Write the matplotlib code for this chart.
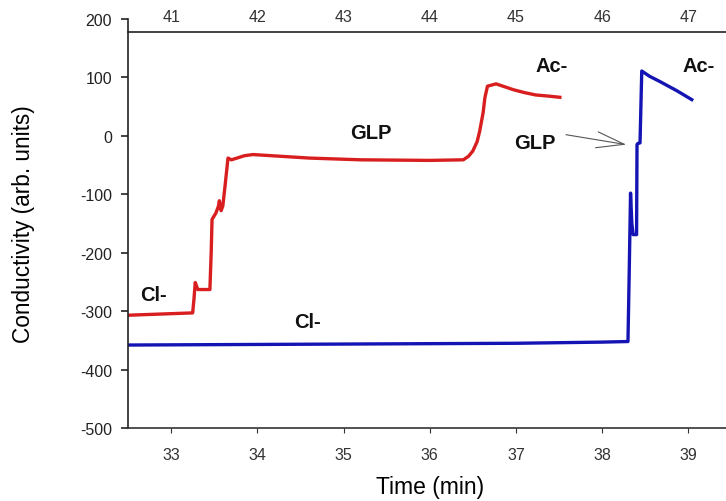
import matplotlib
matplotlib.use("Agg")
import matplotlib.pyplot as plt

plt.rcParams['font.family'] = ['Liberation Sans', 'DejaVu Sans']
plt.rcParams['axes.unicode_minus'] = False

# ---- data ----
red_t = [32.5, 33.25, 33.265, 33.28, 33.31, 33.45, 33.465, 33.475, 33.52, 33.55,
         33.56, 33.58, 33.60, 33.63, 33.66, 33.70, 33.85, 33.95, 34.6, 35.2,
         36.0, 36.39, 36.45, 36.50, 36.55, 36.58, 36.62, 36.64, 36.67, 36.72,
         36.77, 36.85, 36.97, 37.10, 37.23, 37.38, 37.51]
red_v = [-307, -303, -280, -251, -263, -263, -200, -143, -132, -120,
         -111, -128, -120, -80, -38, -41, -34, -32, -38, -41,
         -42, -41, -35, -26, -10, 8, 40, 65, 85, 87,
         89, 85, 79, 74, 70, 68, 66]

blue_t = [32.5, 34.0, 35.5, 37.0, 38.0, 38.30, 38.315, 38.33, 38.345, 38.36,
          38.40, 38.405, 38.415, 38.44, 38.46, 38.55, 38.67, 38.87, 39.04]
blue_v = [-358, -357, -356, -355, -353, -352, -230, -98, -150, -169,
          -169, -15, -13, -12, 111, 102, 93, 77, 62]

bottom_ticks = [33, 34, 35, 36, 37, 38, 39]
top_ticks = [41, 42, 43, 44, 45, 46, 47]
y_ticks = [-500, -400, -300, -200, -100, 0, 100, 200]

labels = [  # text, t, value
    ("Cl-", 32.79, -272),
    ("Cl-", 34.58, -317),
    ("GLP", 35.32, 5),
    ("Ac-", 37.41, 120),
    ("Ac-", 39.12, 120),
]

# ---- figure ----
fig = plt.figure(figsize=(7.26, 5.02), dpi=100)
ax = fig.add_axes([128/726, 1-429/502, 598/726, 409/502])

ax.plot(red_t, red_v, color='#d81e1e', lw=2.4, solid_joinstyle='round')
ax.plot(blue_t, blue_v, color='#1414b4', lw=2.4, solid_joinstyle='round')

ax.set_xlim(32.5, 32.5 + 598/86.2)
ax.set_ylim(-500, 200)
ax.set_xticks(bottom_ticks)
ax.set_yticks(y_ticks)

for s in ['top', 'right']:
    ax.spines[s].set_visible(False)
ax.spines['left'].set_linewidth(1.2)
ax.spines['bottom'].set_linewidth(1.2)
ax.spines['left'].set_color('#222222')
ax.spines['bottom'].set_color('#333333')

ax.tick_params(axis='y', direction='out', length=5, width=1.2, pad=6.5,
               labelsize=11.5, colors='#222222')
ax.tick_params(axis='x', direction='out', length=3.5, width=0.8, pad=10,
               labelsize=11.5, colors='#333333')

# top axis (offset +8 min)
sec = ax.secondary_xaxis((178 + 500) / 700, functions=(lambda x: x + 8, lambda x: x - 8))
sec.set_xticks(top_ticks)
sec.tick_params(length=0, pad=5.5, labelsize=11.5, colors='#333333')
sec.spines['top'].set_linewidth(1.3)
sec.spines['top'].set_color('#333333')

ax.set_xlabel("Time (min)", fontsize=16.5)
ax.xaxis.set_label_coords((430 - 128) / 598, -0.115)
ax.set_ylabel("Conductivity (arb. units)", fontsize=16.3)
ax.yaxis.set_label_coords((35 - 128) / 598, 0.5)

for txt, t, v in labels:
    ax.text(t, v, txt, fontsize=14.5, fontweight='bold', ha='center', va='center',
            color='#111111')

ax.annotate("GLP", xy=(38.28, -15), xytext=(37.22, -12), fontsize=14.5,
            fontweight='bold', ha='center', va='center', color='#111111')
ax.annotate("", xy=(38.28, -15), xytext=(37.58, 2),
            arrowprops=dict(arrowstyle='->,head_length=2.0,head_width=0.58',
                            color='#555555', lw=0.8, mutation_scale=10,
                            shrinkA=0, shrinkB=0))

fig.savefig("out.png", dpi=100)
